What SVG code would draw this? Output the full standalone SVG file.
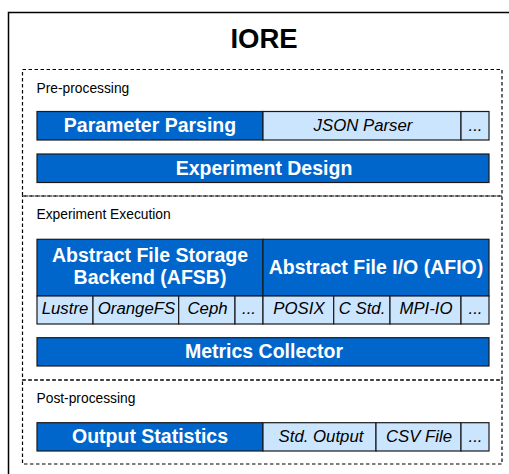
<svg xmlns="http://www.w3.org/2000/svg" width="509" height="474" viewBox="0 0 509 474">
<style>
.dk{fill:#0066CC;stroke:#1a1a1a;stroke-width:1.2}
.lt{fill:#CCE5FF;stroke:#1a1a1a;stroke-width:1.2}
.sec{fill:none;stroke:#000;stroke-width:1.2;stroke-dasharray:3.5 2.5}
.h{font-family:"Liberation Sans",Arial,sans-serif;font-weight:bold;font-size:19.5px;fill:#fff;text-anchor:middle}
.i{font-family:"Liberation Sans",Arial,sans-serif;font-style:italic;font-size:16.8px;fill:#000;text-anchor:middle}
.lb{font-family:"Liberation Sans",Arial,sans-serif;font-size:13.8px;fill:#000}
</style>
<rect width="509" height="474" fill="#fff"/>
<g id="iore">
<rect x="8.5" y="12.5" width="520" height="480" fill="none" stroke="#000" stroke-width="1.5"/>
<text x="264" y="47.5" font-family="Liberation Sans,Arial,sans-serif" font-weight="bold" font-size="27.5" text-anchor="middle" fill="#000">IORE</text>
</g>
<g id="pre">
<rect class="sec" x="22.5" y="69.5" width="479.5" height="126.5"/>
<text class="lb" x="36.5" y="93.3">Pre-processing</text>
</g>
<g id="exec">
<rect class="sec" x="22.5" y="196" width="479.5" height="184"/>
<text class="lb" x="36.5" y="219.3">Experiment Execution</text>
</g>
<g id="post">
<rect class="sec" x="22.5" y="380" width="479.5" height="84"/>
<text class="lb" x="36.5" y="402.7">Post-processing</text>
</g>
<g id="param">
<rect class="dk" x="37" y="111.5" width="226" height="28.5"/>
<text class="h" x="150" y="132.3">Parameter Parsing</text>
<rect class="lt" x="263" y="111.5" width="198" height="28.5"/>
<text class="i" x="363" y="131">JSON Parser</text>
<rect class="lt" x="461" y="111.5" width="28" height="28.5"/>
<text class="i" x="475.5" y="131">...</text>
</g>
<g id="design">
<rect class="dk" x="37" y="154" width="452" height="28.5"/>
<text class="h" x="264" y="174.5">Experiment Design</text>
</g>
<g id="afsb">
<rect class="dk" x="37" y="239.3" width="226" height="56.7"/>
<text class="h" x="150" y="262.3">Abstract File Storage</text>
<text class="h" x="150" y="284.3">Backend (AFSB)</text>
<rect class="lt" x="37" y="296" width="56" height="28"/>
<text class="i" x="65" y="314.3">Lustre</text>
<rect class="lt" x="93" y="296" width="85.7" height="28"/>
<text class="i" x="136.5" y="314.3">OrangeFS</text>
<rect class="lt" x="178.7" y="296" width="56.3" height="28"/>
<text class="i" x="207.5" y="314.3">Ceph</text>
<rect class="lt" x="235" y="296" width="28" height="28"/>
<text class="i" x="249" y="314.3">...</text>
</g>
<g id="afio">
<rect class="dk" x="263" y="239.3" width="226" height="56.7"/>
<text class="h" x="376" y="273.5">Abstract File I/O (AFIO)</text>
<rect class="lt" x="263" y="296" width="70.7" height="28"/>
<text class="i" x="299" y="314.3">POSIX</text>
<rect class="lt" x="333.7" y="296" width="56.3" height="28"/>
<text class="i" x="362" y="314.3">C Std.</text>
<rect class="lt" x="390" y="296" width="71" height="28"/>
<text class="i" x="426" y="314.3">MPI-IO</text>
<rect class="lt" x="461" y="296" width="28" height="28"/>
<text class="i" x="475.5" y="314.3">...</text>
</g>
<g id="metrics">
<rect class="dk" x="37" y="337.7" width="452" height="28.3"/>
<text class="h" x="264" y="357.8">Metrics Collector</text>
</g>
<g id="output">
<rect class="dk" x="37" y="422.7" width="226" height="28.3"/>
<text class="h" x="150" y="443">Output Statistics</text>
<rect class="lt" x="263" y="422.7" width="113" height="28.3"/>
<text class="i" x="321" y="441.7">Std. Output</text>
<rect class="lt" x="376" y="422.7" width="85" height="28.3"/>
<text class="i" x="419" y="441.7">CSV File</text>
<rect class="lt" x="461" y="422.7" width="28" height="28.3"/>
<text class="i" x="475.5" y="441.7">...</text>
</g>
</svg>
